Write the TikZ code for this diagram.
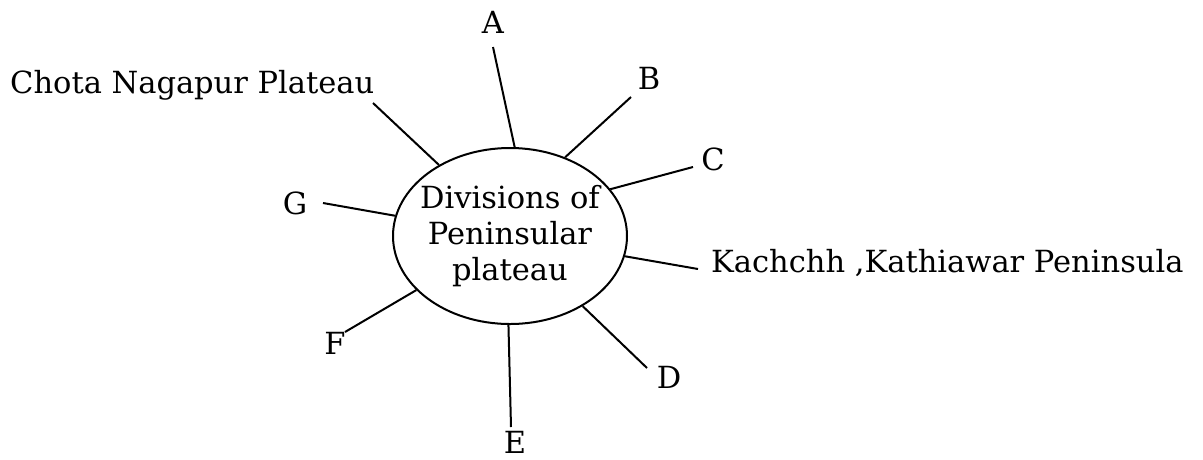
\documentclass[tikz,border=0pt]{standalone}
\usepackage{fontspec}
\setmainfont{DejaVu Serif}
\usepackage{tikz}
\usetikzlibrary{shapes.geometric}
\tikzset{
  hubnode/.style={ellipse,draw,line width=2pt,minimum width=234pt,
    minimum height=176pt,inner xsep=-9pt,inner ysep=0pt,align=center,
    font=\fontsize{30.5}{36}\selectfont},
  spokelabel/.style={inner sep=0pt,font=\fontsize{30.5}{36}\selectfont},
  spoke/.style={line width=2pt},
}

\begin{document}
\begin{tikzpicture}[x=1pt,y=-1pt]
\useasboundingbox (0,0) rectangle (1203,459);

% ── Centre ellipse ───────────────────────────────────────────────────────
\node[hubnode] (hub) at (510,236) {Divisions of\\Peninsular\\plateau};

% ── Labels round the ellipse ─────────────────────────────────────────────
\node[spokelabel] (A) at (493,22) {A};
\node[spokelabel] (B) at (649,78) {B};
\node[spokelabel] (C) at (713,159) {C};
\node[spokelabel,anchor=base west] (K) at (711,272) {Kachchh ,Kathiawar Peninsula};
\node[spokelabel] (D) at (669,377) {D};
\node[spokelabel] (E) at (515,442) {E};
\node[spokelabel] (F) at (335,343) {F};
\node[spokelabel] (G) at (295,203) {G};
\node[spokelabel,anchor=base west] (CN) at (10,93) {Chota Nagapur Plateau};

% ── Free ends of the spokes ──────────────────────────────────────────────
\coordinate (tipA)  at (493,47);
\coordinate (tipB)  at (631,97);
\coordinate (tipC)  at (693,167);
\coordinate (tipK)  at (698,269);
\coordinate (tipD)  at (647,368);
\coordinate (tipE)  at (511,427);
\coordinate (tipF)  at (345,332);
\coordinate (tipG)  at (323,203);
\coordinate (tipCN) at (373,103);

% ── Spokes ───────────────────────────────────────────────────────────────
\foreach \n/\ang in {A/87, B/55, C/25, K/-10, D/-44, E/269, F/210, G/170, CN/135}
  \draw[spoke] (hub.\ang) -- (tip\n);

\end{tikzpicture}
\end{document}
